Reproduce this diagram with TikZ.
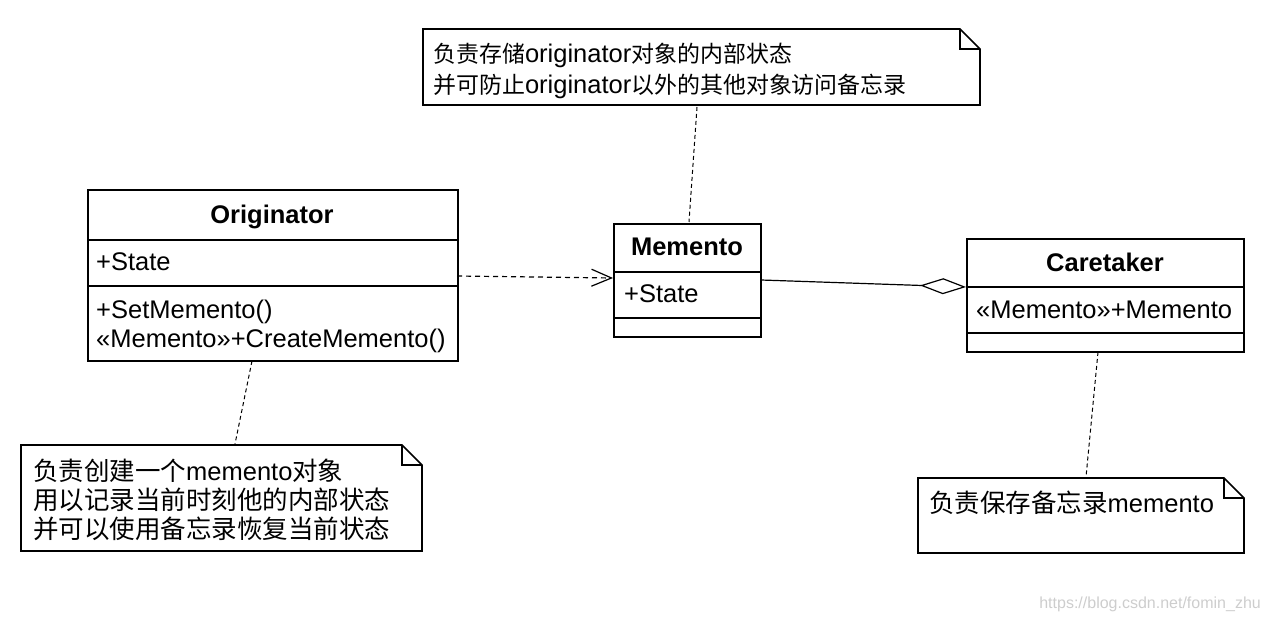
\documentclass[tikz,border=0pt]{standalone}
\usepackage{fontspec}
\setmainfont{Liberation Sans}
\newfontfamily\cjk[Scale=0.9]{Noto Sans CJK SC}
\newfontfamily\cjkw[Scale=1.0]{Noto Sans CJK SC}
\usetikzlibrary{arrows.meta}
\definecolor{wm}{RGB}{205,205,205}
\begin{document}
\begin{tikzpicture}[x=1pt,y=-1pt,
  box/.style={draw, line width=1.6pt, inner sep=0pt, anchor=north west},
  sep/.style={line width=1.6pt},
  txt/.style={inner sep=0pt, anchor=base west, font=\fontsize{25.5}{30}\selectfont},
  ttl/.style={inner sep=0pt, anchor=base, font=\fontsize{25.5}{30}\selectfont\bfseries},
  notebox/.style={line width=1.6pt},
  dep/.style={line width=1.2pt, dash pattern=on 5pt off 4pt},
  notelink/.style={line width=1pt, dash pattern=on 4pt off 3pt},
]
\useasboundingbox (0,0) rectangle (1268,620);

% ---------- Originator ----------
\node[box, minimum width=370pt, minimum height=171pt] (orig) at (87,189) {};
\draw[sep] (87,240) -- (457,240);
\draw[sep] (87,286) -- (457,286);
\node[ttl] (origT) at (272,224) {Originator};
\node[txt] (origA) at (96,270) {+State};
\node[txt] (origO1) at (96,318) {+SetMemento()};
\node[txt] (origO2) at (96,347) {«Memento»+CreateMemento()};

% ---------- Memento ----------
\node[box, minimum width=147pt, minimum height=113pt] (mem) at (613,223) {};
\draw[sep] (613,272) -- (760,272);
\draw[sep] (613,318) -- (760,318);
\node[ttl] (memT) at (687,256) {Memento};
\node[txt] (memA) at (624,302) {+State};

% ---------- Caretaker ----------
\node[box, minimum width=277pt, minimum height=113pt] (care) at (966,238) {};
\draw[sep] (966,287) -- (1243,287);
\draw[sep] (966,333) -- (1243,333);
\node[ttl] (careT) at (1105,272) {Caretaker};
\node[txt] (careA) at (976,318) {«Memento»+Memento};

% ---------- Notes ----------
\draw[notebox] (423,29) -- (960,29) -- (980,49) -- (980,105) -- (423,105) -- cycle;
\draw[notebox] (960,29) -- (960,49) -- (980,49);
\node[txt] (n1a) at (433,63) {{\cjk 负责存储}originator{\cjk 对象的内部状态}};
\node[txt] (n1b) at (433,94) {{\cjk 并可防止}originator{\cjk 以外的其他对象访问备忘录}};

\draw[notebox] (21,445) -- (402,445) -- (422,465) -- (422,551) -- (21,551) -- cycle;
\draw[notebox] (402,445) -- (402,465) -- (422,465);
\node[txt] (n2a) at (33,480) {{\cjkw 负责创建一个}memento{\cjkw 对象}};
\node[txt] (n2b) at (33,509) {{\cjkw 用以记录当前时刻他的内部状态}};
\node[txt] (n2c) at (33,538) {{\cjkw 并可以使用备忘录恢复当前状态}};

\draw[notebox] (918,478) -- (1224,478) -- (1244,498) -- (1244,553) -- (918,553) -- cycle;
\draw[notebox] (1224,478) -- (1224,498) -- (1244,498);
\node[txt] (n3a) at (929,512) {{\cjkw 负责保存备忘录}memento};

% ---------- connectors ----------
\coordinate (pOrigR) at (457,276);
\coordinate (pMemL) at (613,278);
\draw[dep, -{Straight Barb[length=20pt, width=17pt, line width=1.2pt]}] (pOrigR) -- (pMemL);

\coordinate (pMemR) at (761,280);
\coordinate (pCareL) at (966,287);
\draw[line width=1.2pt, -{Diamond[open, length=46pt, width=16pt, line width=1.2pt]}] (pMemR) -- (pCareL);

\coordinate (pN1) at (697,107);
\coordinate (pMemT) at (689,222);
\draw[notelink] (pN1) -- (pMemT);

\coordinate (pOrigB) at (252,361);
\coordinate (pN2) at (235,444);
\draw[notelink] (pOrigB) -- (pN2);

\coordinate (pCareB) at (1098,352);
\coordinate (pN3) at (1086,477);
\draw[notelink] (pCareB) -- (pN3);

% ---------- watermark ----------
\node[inner sep=0pt, anchor=base east, text=wm, font=\fontsize{16}{18}\selectfont] (wmark) at (1261,608) {https://blog.csdn.net/fomin\_zhu};
\end{tikzpicture}
\end{document}
